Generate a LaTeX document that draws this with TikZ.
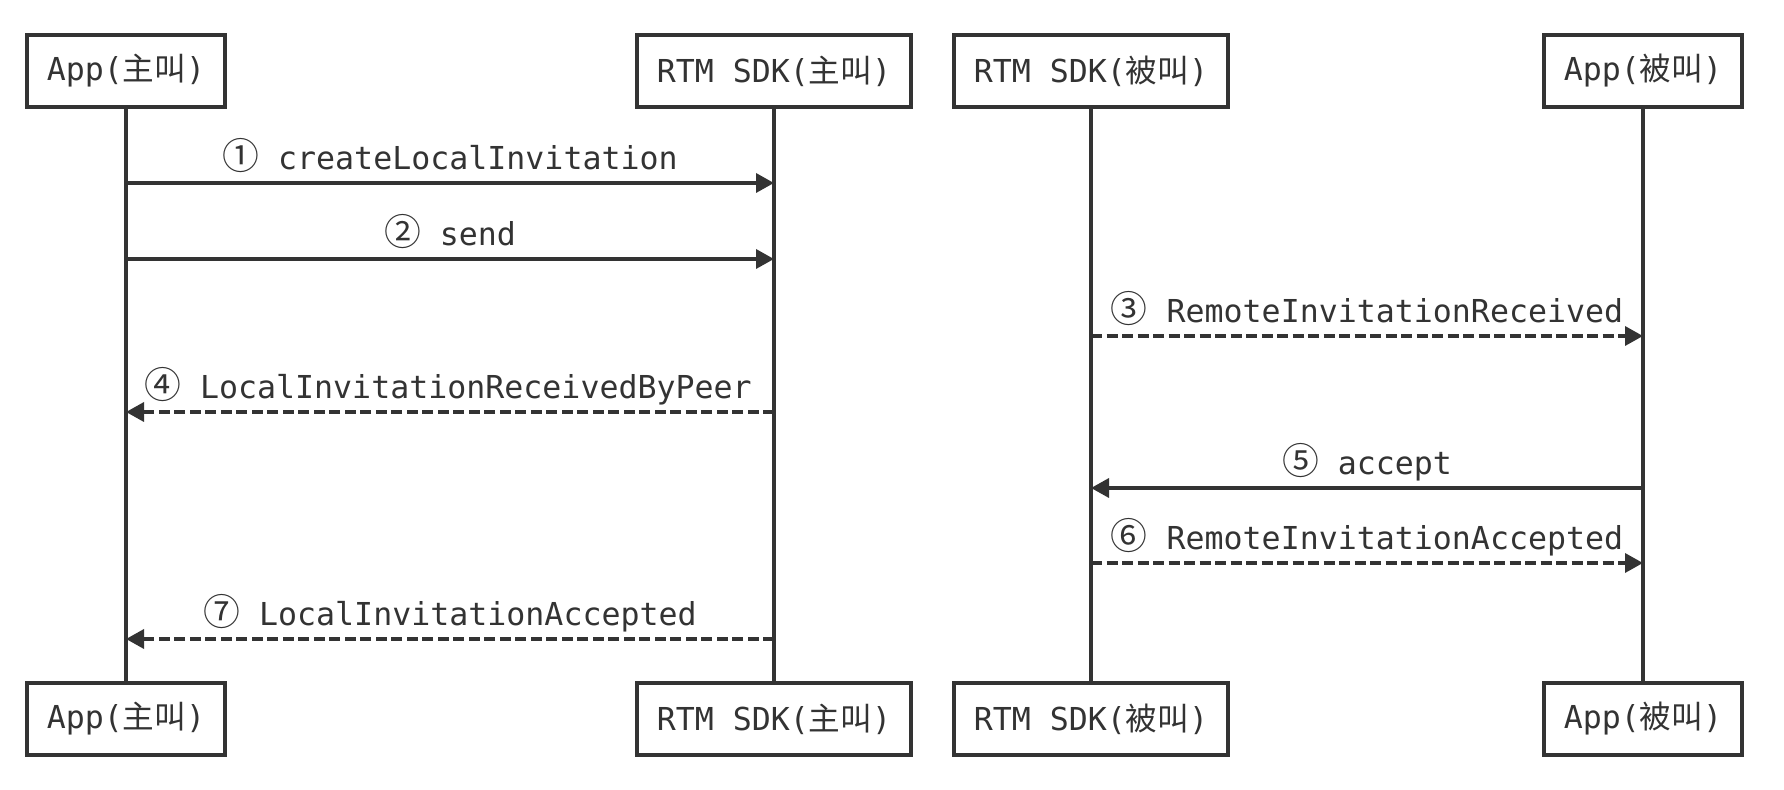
\documentclass[tikz,border=0pt]{standalone}
\usepackage{fontspec}
\newfontfamily\mono{DejaVu Sans Mono}
\newfontfamily\cjk{Noto Sans CJK SC}
\newcommand\cnum[1]{{\cjk\fontsize{18.4}{19}\selectfont #1}}
\usetikzlibrary{arrows.meta}
\definecolor{ink}{HTML}{333333}
\begin{document}
\begin{tikzpicture}[x=0.5pt,y=-0.5pt,
  actor/.style={draw=ink, line width=1.75pt, fill=white, minimum height=36pt,
    inner sep=0pt, text=ink, font=\mono\fontsize{15.8}{19}\selectfont},
  narrow/.style={actor, minimum width=99pt},
  wide/.style={actor, minimum width=137pt},
  life/.style={draw=ink, line width=1.6pt},
  msg/.style={draw=ink, line width=1.75pt, -{Triangle[length=9pt,width=9.5pt]}},
  reply/.style={msg, dash pattern=on 5.5pt off 2.25pt},
  lbl/.style={anchor=base, text=ink, inner sep=0pt, font=\mono\fontsize{15.8}{19}\selectfont}]
\useasboundingbox (0,0) rectangle (1784,790);
% actors
\node[narrow] (a1) at (126,71) {App({\cjk 主叫})};
\node[wide]   (s1) at (774,71) {RTM SDK({\cjk 主叫})};
\node[wide]   (s2) at (1091,71) {RTM SDK({\cjk 被叫})};
\node[narrow] (a2) at (1643,71) {App({\cjk 被叫})};
\node[narrow] (a1b) at (126,719) {App({\cjk 主叫})};
\node[wide]   (s1b) at (774,719) {RTM SDK({\cjk 主叫})};
\node[wide]   (s2b) at (1091,719) {RTM SDK({\cjk 被叫})};
\node[narrow] (a2b) at (1643,719) {App({\cjk 被叫})};
% lifelines
\draw[life] (a1.south) -- (a1b.north);
\draw[life] (s1.south) -- (s1b.north);
\draw[life] (s2.south) -- (s2b.north);
\draw[life] (a2.south) -- (a2b.north);
% points on lifelines
\coordinate (a1m1) at (126,183); \coordinate (s1m1) at (774,183);
\coordinate (a1m2) at (126,259); \coordinate (s1m2) at (774,259);
\coordinate (s2m3) at (1091,336); \coordinate (a2m3) at (1643,336);
\coordinate (s1m4) at (774,412); \coordinate (a1m4) at (126,412);
\coordinate (a2m5) at (1643,488); \coordinate (s2m5) at (1091,488);
\coordinate (s2m6) at (1091,563); \coordinate (a2m6) at (1643,563);
\coordinate (s1m7) at (774,639); \coordinate (a1m7) at (126,639);
% messages
\draw[msg] (a1m1) -- (s1m1);
\draw[msg] (a1m2) -- (s1m2);
\draw[reply] (s2m3) -- (a2m3);
\draw[reply] (s1m4) -- (a1m4);
\draw[msg] (a2m5) -- (s2m5);
\draw[reply] (s2m6) -- (a2m6);
\draw[reply] (s1m7) -- (a1m7);
% labels
\node[lbl] (l1) at (450,170) {\cnum{①} createLocalInvitation};
\node[lbl] (l2) at (450,246) {\cnum{②} send};
\node[lbl] (l3) at (1367,323) {\cnum{③} RemoteInvitationReceived};
\node[lbl] (l4) at (448,399) {\cnum{④} LocalInvitationReceivedByPeer};
\node[lbl] (l5) at (1367,475) {\cnum{⑤} accept};
\node[lbl] (l6) at (1367,550) {\cnum{⑥} RemoteInvitationAccepted};
\node[lbl] (l7) at (450,626) {\cnum{⑦} LocalInvitationAccepted};
\end{tikzpicture}
\end{document}
